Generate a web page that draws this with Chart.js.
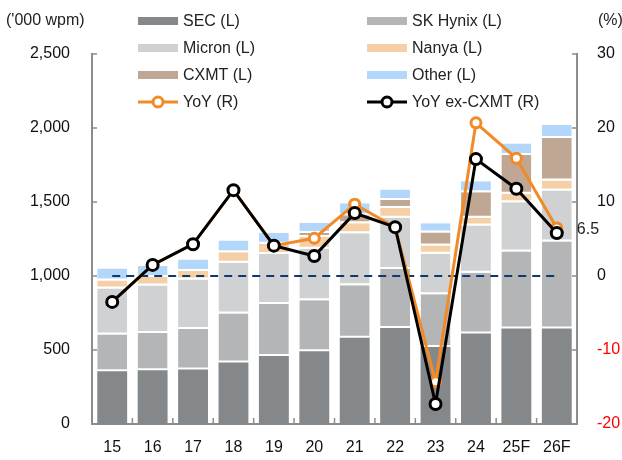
<!DOCTYPE html>
<html lang="en">
<head>
    <meta charset="UTF-8">
    <title>DRAM wafer capacity</title>
    <script src="https://cdn.jsdelivr.net/npm/chart.js"></script>
    <style>
        body { margin: 0; background: #fff; }
        .wrap { width: 622px; height: 460px; }
    </style>
</head>
<body>
    <div class="wrap"><canvas id="myChart"></canvas></div>
    <script>
        // categories and series ('000 wpm, left axis)
        const years = ['15', '16', '17', '18', '19', '20', '21', '22', '23', '24', '25F', '26F'];
        const sec = [357, 364, 369, 416, 460, 492, 582, 649, 521, 611, 645, 645];
        const skHynix = [247, 251, 273, 330, 351, 344, 355, 398, 355, 411, 521, 588];
        const micron = [311, 320, 335, 344, 337, 348, 352, 346, 274, 319, 332, 344];
        const nanya = [55, 58, 56, 71, 70, 81, 68, 67, 56, 52, 57, 68];
        const cxmt = [0, 0, 0, 0, 0, 25, 53, 54, 88, 173, 263, 287];
        const other = [81, 74, 79, 79, 74, 70, 82, 70, 63, 74, 78, 88];
        // YoY growth (%, right axis)
        const yoy = [-3.5, 1.5, 4.3, 11.6, 4.1, 5.1, 9.7, 6.6, -14.3, 20.7, 15.9, 6.5];
        const yoyExCxmt = [-3.5, 1.5, 4.3, 11.6, 4.1, 2.7, 8.5, 6.6, -17.3, 15.8, 11.8, 5.8];
        const zeroLine = years.map(() => 0);
        // tick labels
        const leftTicks = [0, 500, 1000, 1500, 2000, 2500];
        const rightTicks = [-20, -10, 0, 10, 20, 30];

        const FONT = "'Liberation Sans', Arial, sans-serif";
        const axisColor = '#8c8c8c';

        // white gap sits at the bottom of each upper segment
        const bar = (label, data, color, gap) => ({
            type: 'bar', label, data, backgroundColor: color, yAxisID: 'y',
            borderColor: '#fff', borderWidth: { top: 0, left: 0, right: 0, bottom: gap },
            borderSkipped: false, order: 3,
            barPercentage: 0.74, categoryPercentage: 1
        });

        const legendItems = [
            { text: 'SEC (L)', color: '#85888b', kind: 'box' },
            { text: 'SK Hynix (L)', color: '#b4b5b7', kind: 'box' },
            { text: 'Micron (L)', color: '#d0d1d3', kind: 'box' },
            { text: 'Nanya (L)', color: '#f5cfa5', kind: 'box' },
            { text: 'CXMT (L)', color: '#bfa794', kind: 'box' },
            { text: 'Other (L)', color: '#b3d7fb', kind: 'box' },
            { text: 'YoY (R)', color: '#f28a26', kind: 'line' },
            { text: 'YoY ex-CXMT (R)', color: '#000', kind: 'line' }
        ];

        const extras = {
            id: 'extras',
            afterDatasetsDraw(chart) {
                const { ctx, chartArea: a, scales } = chart;
                ctx.save();
                // inward tick marks
                ctx.strokeStyle = axisColor;
                ctx.lineWidth = 1.5;
                ctx.beginPath();
                leftTicks.forEach(v => {
                    const y = scales.y.getPixelForValue(v);
                    ctx.moveTo(a.left, y); ctx.lineTo(a.left + 5, y);
                });
                rightTicks.forEach(v => {
                    const y = scales.y1.getPixelForValue(v);
                    ctx.moveTo(a.right, y); ctx.lineTo(a.right - 5, y);
                });
                const step = a.width / years.length;
                for (let i = 1; i < years.length; i++) {
                    const x = a.left + i * step;
                    ctx.moveTo(x, a.bottom); ctx.lineTo(x, a.bottom - 6);
                }
                ctx.stroke();

                // 6.5 label at last YoY point
                const last = chart.getDatasetMeta(7).data[years.length - 1];
                ctx.fillStyle = '#222';
                ctx.font = '16px ' + FONT;
                ctx.textBaseline = 'middle';
                ctx.textAlign = 'left';
                ctx.fillText('6.5', last.x + 20, last.y + 2);
                ctx.restore();
            },
            afterDraw(chart) {
                const { ctx } = chart;
                ctx.save();
                ctx.font = '16px ' + FONT;
                ctx.fillStyle = '#222';
                ctx.textBaseline = 'middle';
                ctx.fillText("('000 wpm)", 6, 21);
                ctx.fillText('(%)', 598, 21);

                const cols = [138, 367];
                const rows = [21, 48, 75, 102];
                legendItems.forEach((it, i) => {
                    const x = cols[i % 2];
                    const y = rows[Math.floor(i / 2)];
                    if (it.kind === 'box') {
                        ctx.fillStyle = it.color;
                        ctx.fillRect(x, y - 4, 40, 8);
                    } else {
                        ctx.strokeStyle = it.color;
                        ctx.lineWidth = 3;
                        ctx.beginPath();
                        ctx.moveTo(x, y); ctx.lineTo(x + 40, y);
                        ctx.stroke();
                        ctx.beginPath();
                        ctx.arc(x + 20, y, 5, 0, Math.PI * 2);
                        ctx.fillStyle = '#fff';
                        ctx.fill();
                        ctx.stroke();
                    }
                    ctx.fillStyle = '#222';
                    ctx.fillText(it.text, x + 45, y + 1);
                });
                ctx.restore();
            }
        };

        const ctx = document.getElementById('myChart').getContext('2d');
        const myChart = new Chart(ctx, {
            data: {
                labels: years,
                datasets: [
                    bar('SEC (L)', sec, '#85888b', 0),
                    bar('SK Hynix (L)', skHynix, '#b4b5b7', 2),
                    bar('Micron (L)', micron, '#d0d1d3', 2),
                    bar('Nanya (L)', nanya, '#f5cfa5', 2),
                    bar('CXMT (L)', cxmt, '#bfa794', 2),
                    bar('Other (L)', other, '#b3d7fb', 2),
                    {
                        type: 'line', label: 'zero', data: zeroLine, yAxisID: 'y1',
                        borderColor: '#0b3a6e', borderWidth: 2, borderDash: [8, 6],
                        pointRadius: 0, order: 2
                    },
                    {
                        type: 'line', label: 'YoY (R)', data: yoy, yAxisID: 'y1',
                        borderColor: '#f28a26', borderWidth: 3,
                        pointRadius: 5, pointBorderWidth: 3,
                        pointBackgroundColor: '#fff', pointBorderColor: '#f28a26', order: 1
                    },
                    {
                        type: 'line', label: 'YoY ex-CXMT (R)', data: yoyExCxmt, yAxisID: 'y1',
                        borderColor: '#000', borderWidth: 3,
                        pointRadius: 5.5, pointBorderWidth: 3,
                        pointBackgroundColor: '#fff', pointBorderColor: '#000', order: 0
                    }
                ]
            },
            options: {
                responsive: true,
                maintainAspectRatio: false,
                animation: false,
                layout: { padding: { top: 54, left: 0, right: 0, bottom: 0 } },
                plugins: { legend: { display: false }, tooltip: { enabled: false } },
                scales: {
                    x: {
                        stacked: true,
                        grid: { display: false, drawTicks: false },
                        border: { color: axisColor, width: 2 },
                        ticks: { color: '#111', font: { size: 16, family: FONT }, padding: 14, maxRotation: 0 },
                        afterFit: s => { s.height = 36; }
                    },
                    y: {
                        stacked: true,
                        position: 'left',
                        min: 0, max: 2500,
                        grid: { display: false, drawTicks: false },
                        border: { color: axisColor, width: 2 },
                        afterBuildTicks: s => { s.ticks = leftTicks.map(v => ({ value: v })); },
                        ticks: { color: '#111', font: { size: 16, family: FONT }, padding: 22 },
                        afterFit: s => { s.width = 92; }
                    },
                    y1: {
                        position: 'right',
                        min: -20, max: 30,
                        grid: { display: false, drawTicks: false },
                        border: { color: axisColor, width: 2 },
                        afterBuildTicks: s => { s.ticks = rightTicks.map(v => ({ value: v })); },
                        ticks: {
                            font: { size: 16, family: FONT }, padding: 20,
                            color: c => c.tick && c.tick.value < 0 ? '#ff0000' : '#111'
                        },
                        afterFit: s => { s.width = 45; }
                    }
                }
            },
            plugins: [extras]
        });
    </script>
</body>
</html>
